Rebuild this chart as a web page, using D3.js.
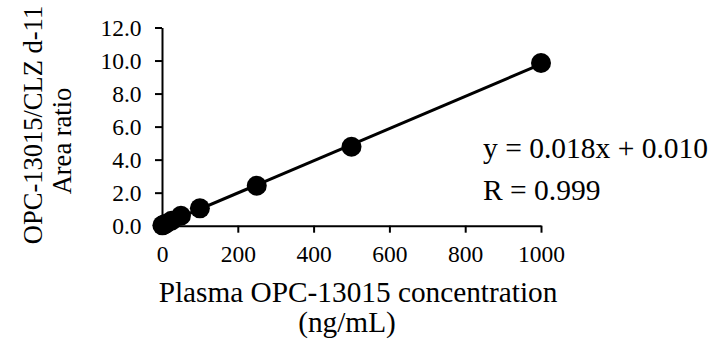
<!DOCTYPE html>
<html>
<head>
<meta charset="utf-8">
<script src="https://cdn.jsdelivr.net/npm/d3@7"></script>
<style>
  html, body { margin: 0; padding: 0; background: #fff; }
  svg { display: block; }
</style>
</head>
<body>
<svg id="chart" width="710" height="345" font-family="Liberation Serif, Times New Roman, serif"></svg>
<script>
// Calibration standards: nominal concentration (ng/mL) and measured area ratio
const concentrations = [1, 5, 10, 25, 50, 100, 250, 500, 1000];
const areaRatios = [0.02, 0.06, 0.12, 0.3, 0.6, 1.05, 2.42, 4.78, 9.85];
const xTicks = [0, 200, 400, 600, 800, 1000];
const yTicks = [0, 2, 4, 6, 8, 10, 12];
const equationText = "y = 0.018x + 0.010";
const rText = "R = 0.999";
const xTitleLines = ["Plasma OPC-13015 concentration", "(ng/mL)"];
const yTitleLines = ["OPC-13015/CLZ d-11", "Area ratio"];

const FONT = "Liberation Serif, Times New Roman, serif";
const svg = d3.select("#chart");
const x = d3.scaleLinear().domain([0, 1000]).range([162, 541]);
const y = d3.scaleLinear().domain([0, 12]).range([225.7, 27.5]);

// least-squares trendline through the standards
const mx = d3.mean(concentrations), my = d3.mean(areaRatios);
let sxy = 0, sxx = 0;
concentrations.forEach((c, i) => { sxy += (c - mx) * (areaRatios[i] - my); sxx += (c - mx) * (c - mx); });
const slope = sxy / sxx, intercept = my - slope * mx;

// axes
const xAxis = svg.append("g").attr("transform", `translate(0,${y(0)})`)
  .call(d3.axisBottom(x).tickValues(xTicks).tickSize(7).tickSizeOuter(0).tickFormat(d3.format("d")));
const yAxis = svg.append("g").attr("transform", `translate(${x(0)},0)`)
  .call(d3.axisLeft(y).tickValues(yTicks).tickSize(7).tickSizeOuter(0).tickFormat(d3.format(".1f")));
[xAxis, yAxis].forEach(g => {
  g.attr("font-family", FONT).attr("font-size", 23.5);
  g.select(".domain").attr("stroke", "#000").attr("stroke-width", 2);
  g.selectAll(".tick line").attr("stroke", "#000").attr("stroke-width", 2);
  g.selectAll(".tick text").attr("fill", "#000");
});
xAxis.selectAll(".tick text").attr("y", 36).attr("dy", 0);
yAxis.selectAll(".tick text").attr("x", -20.5).attr("dy", "0.35em");

// trendline
svg.append("line")
  .attr("x1", x(0)).attr("y1", y(intercept))
  .attr("x2", x(1000)).attr("y2", y(intercept + slope * 1000))
  .attr("stroke", "#000").attr("stroke-width", 3);

// data points
svg.append("g").selectAll("circle")
  .data(concentrations.map((c, i) => ({ c, r: areaRatios[i] })))
  .join("circle")
  .attr("cx", d => x(d.c)).attr("cy", d => y(d.r))
  .attr("r", 10).attr("fill", "#000");

// equation annotation
const note = svg.append("g").attr("font-size", 29.5).attr("fill", "#000");
note.append("text").attr("x", 483).attr("y", 158).text(equationText);
note.append("text").attr("x", 483).attr("y", 200).text(rText);

// x-axis title
const xt = svg.append("g").attr("font-size", 29.3).attr("fill", "#000");
xt.append("text").attr("x", 358).attr("y", 302).attr("text-anchor", "middle").text(xTitleLines[0]);
xt.append("text").attr("x", 347).attr("y", 332).attr("text-anchor", "middle").text(xTitleLines[1]);

// y-axis title (rotated)
const yt = svg.append("g").attr("font-size", 26.5).attr("fill", "#000");
yt.append("text").attr("transform", "translate(42,125) rotate(-90)").attr("text-anchor", "middle").text(yTitleLines[0]);
yt.append("text").attr("transform", "translate(71,141) rotate(-90)").attr("text-anchor", "middle").text(yTitleLines[1]);
</script>
</body>
</html>
